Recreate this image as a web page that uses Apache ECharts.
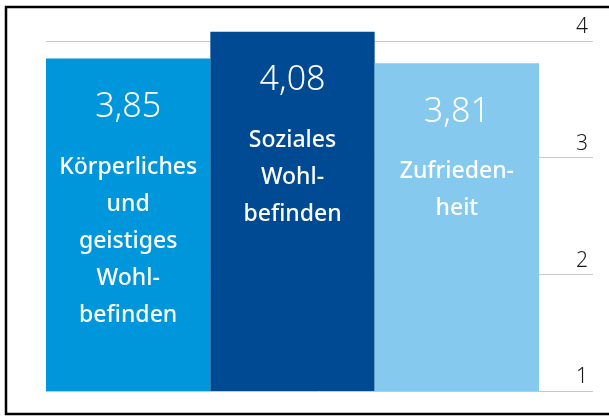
<!DOCTYPE html>
<html>
<head>
<meta charset="utf-8">
<script src="https://cdn.jsdelivr.net/npm/echarts@6/dist/echarts.min.js"></script>
<style>
  html, body { margin:0; padding:0; background:#fff; }
  #chart { width:609px; height:417px; }
</style>
</head>
<body>
<div id="chart"></div>
<script>
// Daten
const categories = ["Körperliches\nund\ngeistiges\nWohl-\nbefinden", "Soziales\nWohl-\nbefinden", "Zufrieden-\nheit"];
const values = [3.85, 4.08, 3.81];
const barColors = ["#0096db", "#004a93", "#85c9ee"];
const yTicks = [1, 2, 3, 4];

const chart = echarts.init(document.getElementById("chart"));

// 116.67 px pro Einheit, Wert 1 bei y=391, Wert 4 bei y=41
const fmt = v => v.toFixed(2).replace(".", ",");

chart.setOption({
  animation: false,
  textStyle: { fontFamily: "Noto Sans" },
  graphic: [{
    type: "rect",
    shape: { x: 6, y: 7, width: 640, height: 407 },
    style: { fill: "none", stroke: "#000", lineWidth: 2.5 },
    z: 100
  }],
  grid: [
    { left: 46, right: 70, top: 17.67, bottom: 26 },   // Balken
    { left: 46, right: 16, top: 41, bottom: 26 }       // Hilfslinien
  ],
  xAxis: [
    { gridIndex: 0, type: "category", data: categories, show: false },
    { gridIndex: 1, type: "value", show: false, min: 0, max: 1 }
  ],
  yAxis: [
    { gridIndex: 0, type: "value", min: 1, max: 4.2, show: false, splitLine: { show: false } },
    {
      gridIndex: 1, type: "value", min: yTicks[0], max: yTicks[yTicks.length - 1], interval: 1,
      position: "right",
      axisLine: { show: false }, axisTick: { show: false },
      splitLine: { lineStyle: { color: "#c8c8c8", width: 1 } },
      axisLabel: {
        inside: true, margin: 5, verticalAlign: "bottom",
        fontSize: 21, fontWeight: 300, color: "#1a1a1a",
        padding: [0, 0, 3, 0]
      }
    }
  ],
  series: [{
    type: "bar",
    xAxisIndex: 0, yAxisIndex: 0,
    barCategoryGap: "0%",
    clip: true,
    z: 5,
    data: values.map((v, i) => ({ value: v, itemStyle: { color: barColors[i] } })),
    label: {
      show: true,
      position: "insideTop",
      distance: 8,
      align: "center",
      formatter: p => "{v|" + fmt(p.value) + "}\n" +
        categories[p.dataIndex].split("\n").map(s => "{c|" + s + "}").join("\n"),
      rich: {
        v: { fontSize: 34, fontWeight: 300, color: "#fff", lineHeight: 82, fontFamily: "Noto Sans" },
        c: { fontSize: 23, fontWeight: 500, color: "#fff", lineHeight: 37, fontFamily: "Noto Sans" }
      }
    }
  }]
});
</script>
</body>
</html>
